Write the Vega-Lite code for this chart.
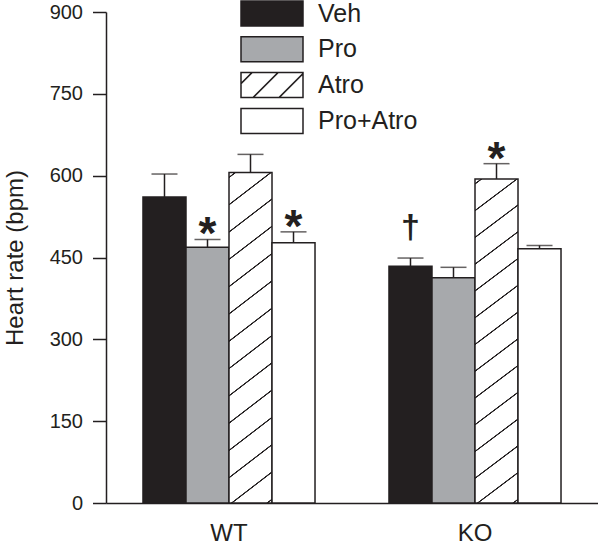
{
  "$schema": "https://vega.github.io/schema/vega-lite/v6.json",
  "width": 492,
  "height": 491,
  "autosize": {"type": "none"},
  "padding": {"left": 106, "top": 12, "right": 0, "bottom": 46},
  "background": "white",
  "config": {
    "view": {"stroke": null},
    "font": "Liberation Sans",
    "axis": {
      "domainColor": "#231f20",
      "tickColor": "#231f20",
      "labelColor": "#231f20",
      "titleColor": "#231f20",
      "domainWidth": 1.5,
      "tickWidth": 1.5,
      "grid": false,
      "labelFont": "Liberation Sans",
      "titleFont": "Liberation Sans"
    }
  },
  "data": {
    "values": [
      {"group": "WT", "treatment": "Veh", "mean": 561, "upper": 603, "sig": ""},
      {"group": "WT", "treatment": "Pro", "mean": 469, "upper": 483, "sig": "*"},
      {"group": "WT", "treatment": "Atro", "mean": 606, "upper": 639, "sig": ""},
      {"group": "WT", "treatment": "Pro+Atro", "mean": 477, "upper": 497, "sig": "*"},
      {"group": "KO", "treatment": "Veh", "mean": 434, "upper": 449, "sig": "†"},
      {"group": "KO", "treatment": "Pro", "mean": 413, "upper": 432, "sig": ""},
      {"group": "KO", "treatment": "Atro", "mean": 594, "upper": 622, "sig": "*"},
      {"group": "KO", "treatment": "Pro+Atro", "mean": 466, "upper": 472, "sig": ""}
    ]
  },
  "encoding": {
    "x": {
      "field": "group",
      "type": "nominal",
      "sort": ["WT", "KO"],
      "scale": {"paddingInner": 0, "paddingOuter": 0},
      "axis": {
        "title": null,
        "labelAngle": 0,
        "ticks": false,
        "tickSize": 0,
        "labelPadding": 18,
        "labelFontSize": 24
      }
    },
    "xOffset": {
      "field": "treatment",
      "type": "nominal",
      "sort": ["Veh", "Pro", "Atro", "Pro+Atro"],
      "scale": {"paddingInner": 0, "paddingOuter": 0.86}
    }
  },
  "layer": [
    {
      "mark": {"type": "bar", "stroke": "#231f20", "strokeWidth": 1.5},
      "encoding": {
        "y": {
          "field": "mean",
          "type": "quantitative",
          "scale": {"domain": [0, 900], "nice": false},
          "axis": {
            "title": "Heart rate (bpm)",
            "values": [0, 150, 300, 450, 600, 750, 900],
            "tickSize": 13.5,
            "labelPadding": 10,
            "labelFontSize": 20,
            "titleFontSize": 24,
            "titleFontWeight": "normal",
            "titlePadding": 22
          }
        },
        "fill": {
          "field": "treatment",
          "type": "nominal",
          "sort": ["Veh", "Pro", "Atro", "Pro+Atro"],
          "condition": {
            "test": "datum.treatment === 'Atro'",
            "value": {
              "gradient": "linear",
              "x1": 0, "y1": 0, "x2": 0.112, "y2": 1.12,
              "stops": [
                {"offset": 0, "color": "#ffffff"},
                {"offset": 0.0105, "color": "#ffffff"}, {"offset": 0.0122, "color": "#231f20"}, {"offset": 0.0148, "color": "#231f20"}, {"offset": 0.0165, "color": "#ffffff"},
                {"offset": 0.0835, "color": "#ffffff"}, {"offset": 0.0852, "color": "#231f20"}, {"offset": 0.0878, "color": "#231f20"}, {"offset": 0.0895, "color": "#ffffff"},
                {"offset": 0.1565, "color": "#ffffff"}, {"offset": 0.1582, "color": "#231f20"}, {"offset": 0.1608, "color": "#231f20"}, {"offset": 0.1625, "color": "#ffffff"},
                {"offset": 0.2295, "color": "#ffffff"}, {"offset": 0.2312, "color": "#231f20"}, {"offset": 0.2338, "color": "#231f20"}, {"offset": 0.2355, "color": "#ffffff"},
                {"offset": 0.3025, "color": "#ffffff"}, {"offset": 0.3042, "color": "#231f20"}, {"offset": 0.3068, "color": "#231f20"}, {"offset": 0.3085, "color": "#ffffff"},
                {"offset": 0.3755, "color": "#ffffff"}, {"offset": 0.3772, "color": "#231f20"}, {"offset": 0.3798, "color": "#231f20"}, {"offset": 0.3815, "color": "#ffffff"},
                {"offset": 0.4485, "color": "#ffffff"}, {"offset": 0.4502, "color": "#231f20"}, {"offset": 0.4528, "color": "#231f20"}, {"offset": 0.4545, "color": "#ffffff"},
                {"offset": 0.5215, "color": "#ffffff"}, {"offset": 0.5232, "color": "#231f20"}, {"offset": 0.5258, "color": "#231f20"}, {"offset": 0.5275, "color": "#ffffff"},
                {"offset": 0.5945, "color": "#ffffff"}, {"offset": 0.5962, "color": "#231f20"}, {"offset": 0.5988, "color": "#231f20"}, {"offset": 0.6005, "color": "#ffffff"},
                {"offset": 0.6675, "color": "#ffffff"}, {"offset": 0.6692, "color": "#231f20"}, {"offset": 0.6718, "color": "#231f20"}, {"offset": 0.6735, "color": "#ffffff"},
                {"offset": 0.7405, "color": "#ffffff"}, {"offset": 0.7422, "color": "#231f20"}, {"offset": 0.7448, "color": "#231f20"}, {"offset": 0.7465, "color": "#ffffff"},
                {"offset": 0.8135, "color": "#ffffff"}, {"offset": 0.8152, "color": "#231f20"}, {"offset": 0.8178, "color": "#231f20"}, {"offset": 0.8195, "color": "#ffffff"},
                {"offset": 0.8865, "color": "#ffffff"}, {"offset": 0.8882, "color": "#231f20"}, {"offset": 0.8908, "color": "#231f20"}, {"offset": 0.8925, "color": "#ffffff"},
                {"offset": 0.9595, "color": "#ffffff"}, {"offset": 0.9612, "color": "#231f20"}, {"offset": 0.9638, "color": "#231f20"}, {"offset": 0.9655, "color": "#ffffff"},
                {"offset": 1, "color": "#ffffff"}
              ]
            }
          },
          "scale": {
            "domain": ["Veh", "Pro", "Atro", "Pro+Atro"],
            "range": ["#231f20", "#a7a9ac", "#ffffff", "#ffffff"]
          },
          "legend": {
            "title": null,
            "orient": "none",
            "legendX": 134,
            "legendY": -12,
            "padding": 0,
            "symbolSize": 625,
            "symbolType": {"expr": "datum.value === 'Atro' ? 'M-1,-1H3.96V1H-1ZM-1,-0.12L-0.12,-1M-0.04,1L1.96,-1M2.04,1L3.96,-0.92' : 'M-1,-1H3.96V1H-1Z'"},
            "symbolStrokeColor": "#231f20",
            "symbolStrokeWidth": 1.5,
            "symbolOpacity": 1,
            "labelFontSize": 25,
            "labelFont": "Liberation Sans",
            "labelColor": "#231f20",
            "labelOffset": 51,
            "rowPadding": 4.8,
            "encode": {
              "symbols": {
                "update": {
                  "fill": {"signal": "datum.value === 'Veh' ? '#231f20' : datum.value === 'Pro' ? '#a7a9ac' : '#ffffff'"},
                  "stroke": {"value": "#231f20"},
                  "strokeWidth": {"value": 1.5},
                  "opacity": {"value": 1}
                }
              }
            }
          }
        }
      }
    },
    {
      "mark": {"type": "rule", "color": "#231f20", "strokeWidth": 1.5},
      "encoding": {
        "y": {"field": "mean", "type": "quantitative"},
        "y2": {"field": "upper"}
      }
    },
    {
      "mark": {"type": "tick", "color": "#231f20", "thickness": 1.5, "size": 26},
      "encoding": {
        "y": {"field": "upper", "type": "quantitative"}
      }
    },
    {
      "transform": [{"filter": "datum.sig === '*'"}],
      "mark": {"type": "text", "fontSize": 46, "fontWeight": "bold", "baseline": "alphabetic", "dy": 10, "color": "#231f20", "font": "Liberation Sans"},
      "encoding": {
        "y": {"field": "upper", "type": "quantitative"},
        "text": {"field": "sig"}
      }
    },
    {
      "transform": [{"filter": "datum.sig === '†'"}],
      "mark": {"type": "text", "fontSize": 34, "fontWeight": "bold", "baseline": "alphabetic", "dy": -20, "color": "#231f20", "font": "Liberation Sans"},
      "encoding": {
        "y": {"field": "upper", "type": "quantitative"},
        "text": {"field": "sig"}
      }
    }
  ]
}
